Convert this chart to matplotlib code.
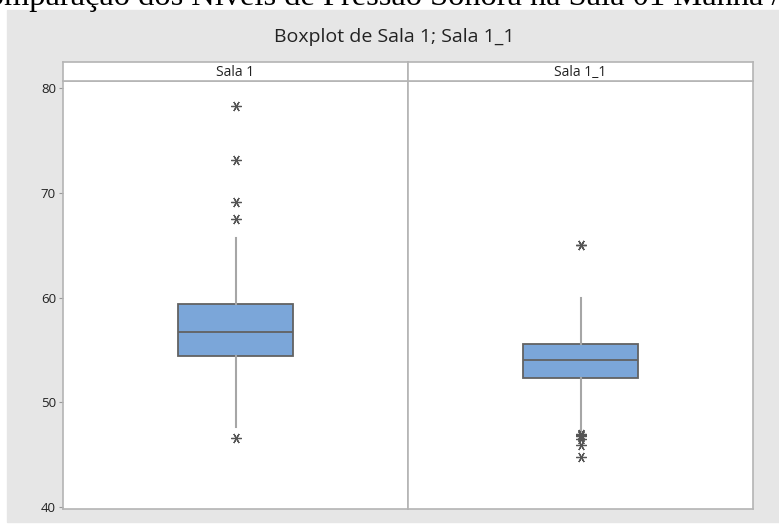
import matplotlib.pyplot as plt
from matplotlib.patches import Rectangle

# Sound pressure level (dB) summaries for the two rooms
groups = ['Sala 1', 'Sala 1_1']
medians = [56.7, 54.0]
q1 = [54.4, 52.3]
q3 = [59.4, 55.6]
whisk_lo = [47.6, 47.3]
whisk_hi = [65.7, 60.0]
outliers = [
    [78.3, 73.1, 69.1, 67.5, 46.6],
    [65.0, 65.0, 47.0, 46.9, 46.8, 46.5, 45.9, 44.8],
]
yticks = [40, 50, 60, 70, 80]

W, H = 779, 525
BG = '#e6e6e6'
FRAME = '#b4b4b4'
TXT = '#222222'


def px(x0, y0, x1, y1):
    '''pixel box (top-left origin) -> figure fraction rect'''
    return [x0 / W, 1 - y1 / H, (x1 - x0) / W, (y1 - y0) / H]


fig = plt.figure(figsize=(W / 100, H / 100), dpi=100)
fig.patches.append(Rectangle((7 / W, 1 - 522 / H), 1, (522 - 10) / H,
                             transform=fig.transFigure, color=BG, zorder=-5))

# document heading, mostly cut off at the top edge
fig.text(-0.0435, 1 - 5.5 / H,
         'Comparação dos Níveis de Pressão Sonora na Sala 01 Manhã / Tarde',
         family='Liberation Serif', fontsize=23.4, color='black',
         va='baseline', ha='left')

fig.text(394 / W, 1 - 37 / H, 'Boxplot de Sala 1; Sala 1_1',
         family='Open Sans', fontsize=14, color=TXT,
         ha='center', va='center')

edges = [63, 408, 753]
for i, name in enumerate(groups):
    ax = fig.add_axes(px(edges[i], 81, edges[i + 1], 509))
    stats = [dict(med=medians[i], q1=q1[i], q3=q3[i],
                  whislo=whisk_lo[i], whishi=whisk_hi[i],
                  fliers=outliers[i])]
    ax.bxp(stats, positions=[0], widths=0.335, patch_artist=True,
           showcaps=False,
           boxprops=dict(facecolor='#7ba6d9', edgecolor='#626262', lw=1.3),
           medianprops=dict(color='#626262', lw=1.3),
           whiskerprops=dict(color='#a6a6a6', lw=1.5),
           flierprops=dict(marker=(6, 2, 90), markersize=7.5,
                           markeredgecolor='#555555', markeredgewidth=0.9,
                           linestyle='none'))
    ax.set_xlim(-0.5, 0.5)
    ax.set_ylim(39.81, 80.67)
    ax.set_xticks([])
    for s in ax.spines.values():
        s.set_color(FRAME)
        s.set_linewidth(1.2)
    if i == 0:
        ax.set_yticks(yticks)
        ax.tick_params(axis='y', length=3, width=0.8, color='#999999',
                       labelsize=9.5, labelcolor=TXT, pad=2)
        for lab in ax.get_yticklabels():
            lab.set_family('Open Sans')
    else:
        ax.set_yticks([])

    # panel header strip
    strip = fig.add_axes(px(edges[i], 62, edges[i + 1], 81))
    strip.set_xticks([])
    strip.set_yticks([])
    for s in strip.spines.values():
        s.set_color(FRAME)
        s.set_linewidth(1.2)
    strip.text(0.5, 0.45, name, transform=strip.transAxes, ha='center',
               va='center', family='Open Sans', fontsize=10, color=TXT)

fig.savefig('out.png', dpi=100)
